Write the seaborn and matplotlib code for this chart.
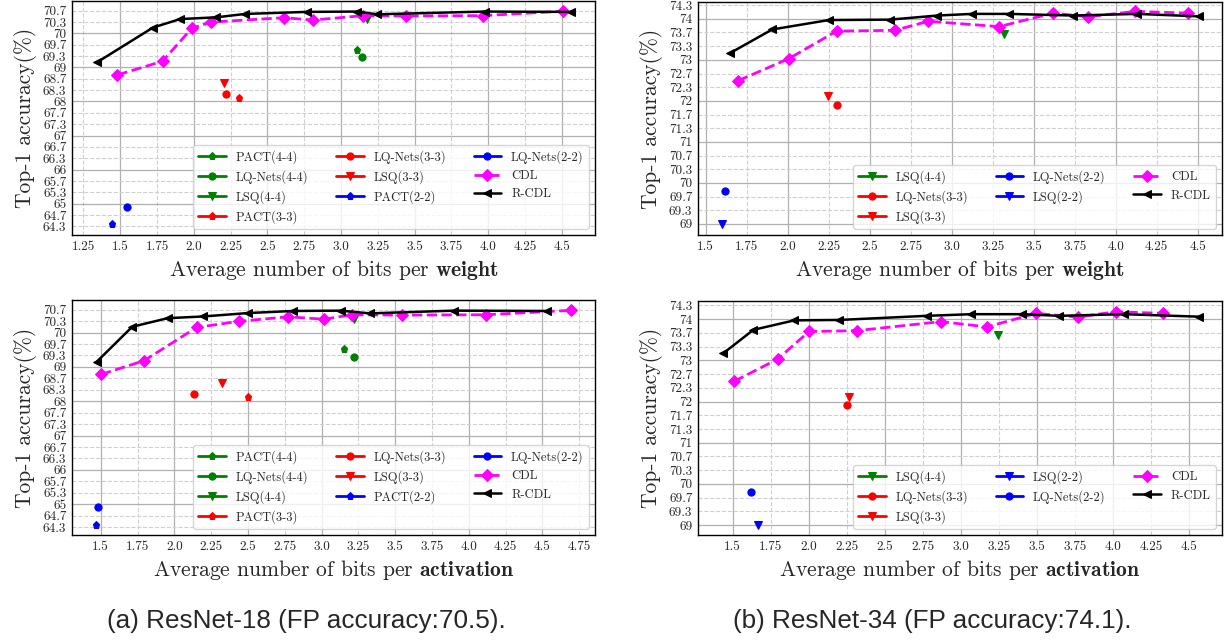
import numpy as np
import matplotlib.pyplot as plt
import seaborn as sns

# ResNet-18: baselines (same accuracy, bits per weight / per activation)
r18_labels = ["PACT(4-4)", "LQ-Nets(4-4)", "LSQ(4-4)", "PACT(3-3)",
              "LQ-Nets(3-3)", "LSQ(3-3)", "PACT(2-2)", "LQ-Nets(2-2)"]
r18_acc = [69.52, 69.30, 70.41, 68.11, 68.21, 68.53, 64.40, 64.91]
r18_bits_w = [3.107, 3.140, 3.174, 2.306, 2.217, 2.206, 1.444, 1.544]
r18_bits_a = [3.151, 3.219, 3.219, 2.502, 2.133, 2.321, 1.470, 1.480]

r18_cdl_acc = [68.78, 69.18, 70.15, 70.33, 70.46, 70.39, 70.52, 70.51, 70.52, 70.65]
r18_cdl_w = [1.481, 1.787, 1.986, 2.115, 2.613, 2.808, 3.151, 3.441, 3.962, 4.509]
r18_cdl_a = [1.502, 1.794, 2.151, 2.441, 2.773, 3.018, 3.204, 3.547, 4.115, 4.697]

r18_rcdl_acc = [69.15, 70.17, 70.42, 70.47, 70.57, 70.63, 70.64, 70.56, 70.64, 70.63]
r18_rcdl_w = [1.342, 1.722, 1.907, 2.151, 2.348, 2.767, 3.107, 3.246, 3.978, 4.566]
r18_rcdl_a = [1.473, 1.714, 1.955, 2.196, 2.502, 2.807, 3.129, 3.328, 3.898, 4.532]

# ResNet-34
r34_labels = ["LSQ(4-4)", "LQ-Nets(3-3)", "LSQ(3-3)", "LQ-Nets(2-2)", "LSQ(2-2)"]
r34_labels_act = ["LSQ(4-4)", "LQ-Nets(3-3)", "LSQ(3-3)", "LSQ(2-2)", "LQ-Nets(2-2)"]
r34_acc = [73.62, 71.91, 72.12, 69.80, 69.01]
r34_bits_w = [3.321, 2.298, 2.247, 1.618, 1.598]
r34_bits_a = [3.247, 2.250, 2.267, 1.618, 1.668]

r34_cdl_acc = [72.49, 73.03, 73.70, 73.72, 73.94, 73.81, 74.14, 74.05, 74.18, 74.14]
r34_cdl_w = [1.697, 2.007, 2.298, 2.654, 2.857, 3.289, 3.620, 3.830, 4.119, 4.438]
r34_cdl_a = [1.510, 1.796, 2.002, 2.316, 2.870, 3.171, 3.495, 3.770, 4.020, 4.329]

r34_rcdl_acc = [73.17, 73.74, 73.97, 73.98, 74.08, 74.12, 74.12, 74.08, 74.12, 74.06]
r34_rcdl_w = [1.651, 1.905, 2.251, 2.623, 2.912, 3.126, 3.350, 3.742, 4.129, 4.505]
r34_rcdl_a = [1.438, 1.636, 1.905, 2.201, 2.776, 3.070, 3.405, 3.647, 4.070, 4.563]

marker_of = {"PACT": "p", "LQ-Nets": "o", "LSQ": "v"}
color_of = {"4-4": "green", "3-3": "red", "2-2": "blue"}

sns.set_style("whitegrid", {"axes.edgecolor": "black", "grid.color": "#b0b0b0"})
plt.rcParams["font.family"] = "serif"
plt.rcParams["font.serif"] = ["cmr10"]
plt.rcParams["mathtext.fontset"] = "cm"
plt.rcParams["axes.unicode_minus"] = False

fig = plt.figure(figsize=(12.25, 6.44), dpi=100)
W, H = 1225, 644


def add_ax(l, t, r, b):
    return fig.add_axes([l / W, 1 - b / H, (r - l) / W, (b - t) / H])


def draw(ax, order, labels, bits, acc, cdl_x, cdl_y, rcdl_x, rcdl_y, xlim, ylim, xword):
    for lab in order:
        i = labels.index(lab)
        name, cfg = lab[:-5], lab[-4:-1]
        c = color_of[cfg]
        sns.lineplot(x=[bits[i]], y=[acc[i]], ax=ax, color=c, marker=marker_of[name],
                     markersize=5.2, markeredgecolor=c, linewidth=2, label=lab,
                     errorbar=None)
    sns.lineplot(x=cdl_x, y=cdl_y, ax=ax, color="magenta", marker="D", markersize=6,
                 markeredgecolor="magenta", linestyle="--", linewidth=2, label="CDL",
                 sort=False, errorbar=None)
    sns.lineplot(x=rcdl_x, y=rcdl_y, ax=ax, color="black", marker="<", markersize=5.5,
                 markeredgecolor="black", linewidth=1.8, label="R-CDL",
                 sort=False, errorbar=None)
    ax.set_xlim(*xlim)
    ax.set_ylim(*ylim)

    xt = [v for v in np.arange(1.0, 5.01, 0.25) if xlim[0] <= v <= xlim[1]]
    xmaj = [v for v in xt if abs(v * 2 - round(v * 2)) < 1e-9]
    xmin = [v for v in xt if abs(v * 2 - round(v * 2)) >= 1e-9]
    ax.set_xticks(xmaj, labels=[f"{float(v)}" for v in xmaj])
    ax.set_xticks(xmin, labels=[f"{float(v)}" for v in xmin], minor=True)

    yt = [v for v in np.arange(60, 76, 1 / 3) if ylim[0] <= v <= ylim[1]]
    ymaj = [v for v in yt if abs(v - round(v)) < 1e-6]
    ymin = [v for v in yt if abs(v - round(v)) >= 1e-6]
    ax.set_yticks(ymaj, labels=[f"{round(v):d}" for v in ymaj])
    ax.set_yticks(ymin, labels=[f"{round(v, 1):g}" for v in ymin], minor=True)

    ax.tick_params(which="both", labelsize=9.5, length=0, pad=4)
    ax.grid(which="major", color="#b0b0b0", linestyle="-", linewidth=0.9)
    ax.grid(which="minor", color="#d0d0d0", linestyle="--", linewidth=0.8)
    for s in ax.spines.values():
        s.set_color("black")
        s.set_linewidth(1.0)

    ax.set_xlabel(r"Average number of bits per $\mathbf{" + xword + "}$", fontsize=15.5)
    ax.set_ylabel("Top-1 accuracy(%)", fontsize=15.5, labelpad=4)
    ax.legend(loc="lower right", ncol=3, fontsize=9, handlelength=2.2,
              handletextpad=0.8, columnspacing=2.2, labelspacing=0.5)


ax1 = add_ax(72, 1, 595, 235)
draw(ax1, r18_labels, r18_labels, r18_bits_w, r18_acc, r18_cdl_w, r18_cdl_acc,
     r18_rcdl_w, r18_rcdl_acc, (1.172, 4.726), (64.08, 70.95), "weight")

ax2 = add_ax(698, 2, 1222, 235)
draw(ax2, r34_labels, r34_labels, r34_bits_w, r34_acc, r34_cdl_w, r34_cdl_acc,
     r34_rcdl_w, r34_rcdl_acc, (1.453, 4.648), (68.73, 74.41), "weight")

ax3 = add_ax(72, 300, 595, 535)
draw(ax3, r18_labels, r18_labels, r18_bits_a, r18_acc, r18_cdl_a, r18_cdl_acc,
     r18_rcdl_a, r18_rcdl_acc, (1.305, 4.857), (64.10, 70.95), "activation")

ax4 = add_ax(698, 301, 1222, 535)
draw(ax4, r34_labels_act, r34_labels, r34_bits_a, r34_acc, r34_cdl_a, r34_cdl_acc,
     r34_rcdl_a, r34_rcdl_acc, (1.272, 4.717), (68.76, 74.44), "activation")

fig.text(306 / W, 1 - 621 / H, "(a) ResNet-18 (FP accuracy:70.5).", ha="center",
         va="center", fontsize=18.8, family="Liberation Sans")
fig.text(932 / W, 1 - 621 / H, "(b) ResNet-34 (FP accuracy:74.1).", ha="center",
         va="center", fontsize=18.8, family="Liberation Sans")

fig.savefig("out.png", dpi=100)
